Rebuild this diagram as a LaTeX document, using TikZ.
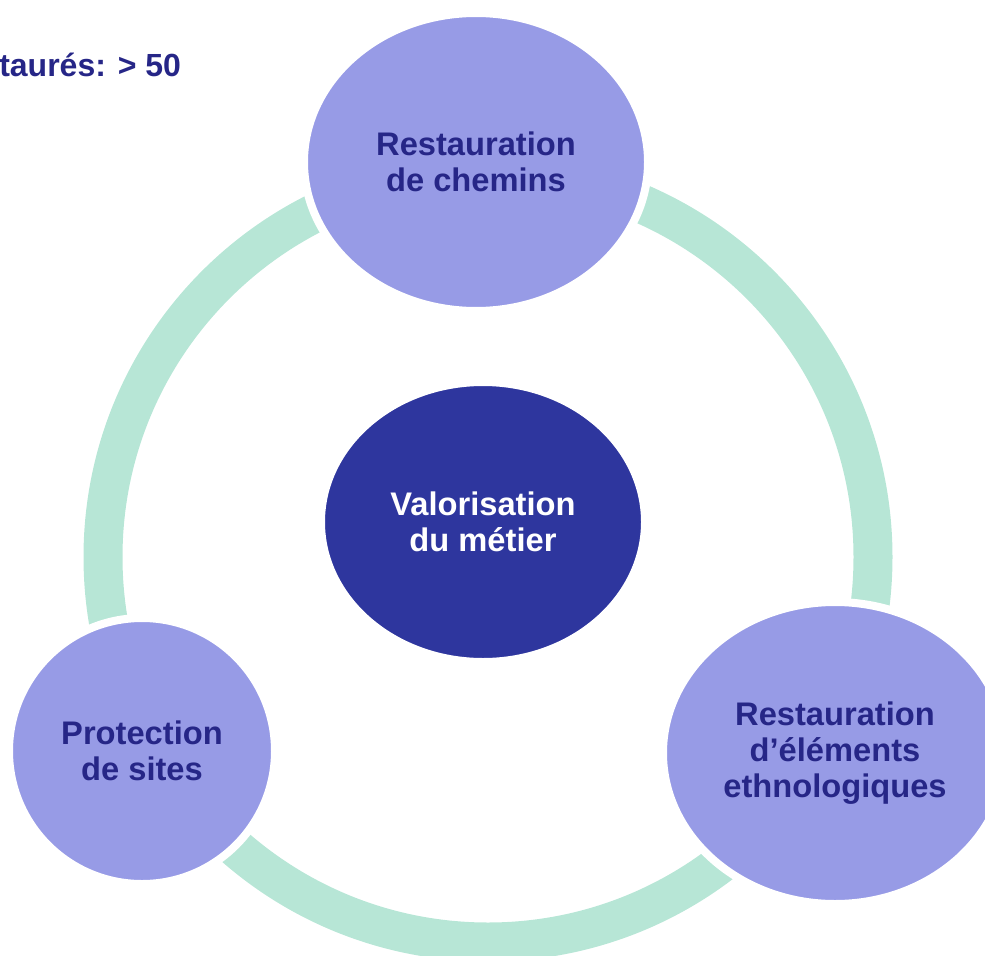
\documentclass[tikz,border=0pt]{standalone}
\usepackage{fontspec}
\setmainfont{Liberation Sans}
\usetikzlibrary{shapes.geometric}

\definecolor{ringmint}{RGB}{183,230,214}
\definecolor{petalblue}{RGB}{151,155,230}
\definecolor{coreblue}{RGB}{46,54,158}
\definecolor{inktext}{RGB}{38,38,135}

\begin{document}
\begin{tikzpicture}[x=0.75pt,y=0.75pt,yscale=-1,xscale=1,
  petal/.style={ellipse, fill=petalblue, draw=white, line width=6pt, inner sep=0pt,
    align=center, text=inktext, font=\bfseries\fontsize{24.5}{27}\selectfont},
  core/.style={petal, fill=coreblue, text=white},
  ring/.style={draw=ringmint, line width=29.25pt}]
\useasboundingbox (0,0) rectangle (985,956);
\clip (0,0) rectangle (985,956);

%Shape: Ring
\coordinate (ringc) at (488,557);
\draw [ring] (ringc) circle [radius=288.75pt];

%Shape: Ellipse top
\node [petal, minimum width=258pt, minimum height=223.5pt] (chemins) at (476,162) {Restauration\\de chemins};
%Shape: Ellipse left
\node [petal, minimum width=199.5pt, minimum height=199.5pt] (sites) at (142,751) {Protection\\de sites};
%Shape: Ellipse right
\node [petal, minimum width=258pt, minimum height=226.5pt] (ethno) at (835,753) {Restauration\\d’éléments\\ethnologiques};
%Shape: Ellipse center
\node [core, minimum width=243pt, minimum height=210pt] (metier) at (483,522) {Valorisation\\du métier};

% Text Node
\node [anchor=base west, inner sep=0pt, text=inktext, font=\bfseries\fontsize{24}{27}\selectfont] (restaures) at (-1,77) {taurés: > 50};

\end{tikzpicture}
\end{document}
